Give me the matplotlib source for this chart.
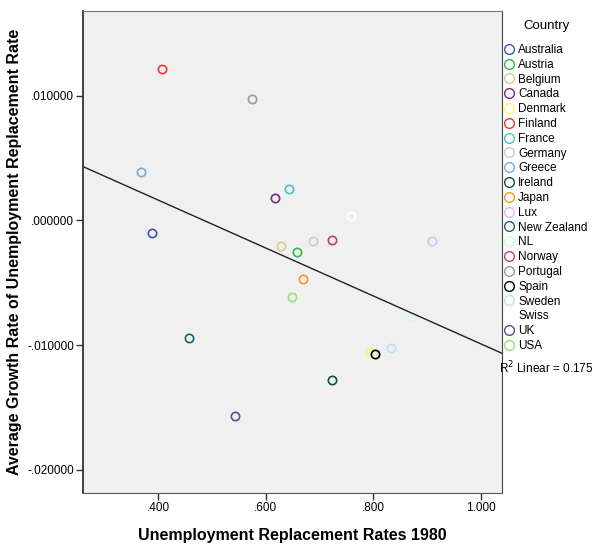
import numpy as np
import matplotlib
matplotlib.use("Agg")
import matplotlib.pyplot as plt
from matplotlib.lines import Line2D

plt.rcParams["font.family"] = ["Liberation Sans", "DejaVu Sans"]

countries = ["Australia", "Austria", "Belgium", "Canada", "Denmark", "Finland",
             "France", "Germany", "Greece", "Ireland", "Japan", "Lux",
             "New Zealand", "NL", "Norway", "Portugal", "Spain", "Sweden",
             "Swiss", "UK", "USA"]
repl_1980 = [0.388, 0.659, 0.629, 0.618, 0.794, 0.408,
             0.644, 0.688, 0.369, 0.724, 0.669, 0.909,
             0.458, 0.873, 0.724, 0.574, 0.804, 0.834,
             0.759, 0.544, 0.649]
growth = [-0.00098, -0.00250, -0.00205, 0.00183, -0.01058, 0.01218,
          0.00250, -0.00162, 0.00387, -0.01278, -0.00472, -0.00165,
          -0.00941, -0.00772, -0.00154, 0.00975, -0.01069, -0.01026,
          0.00039, -0.01567, -0.00614]
colors = ["#3E58AC", "#2EB848", "#D3CE97", "#7C287D", "#FBF873", "#EF3338",
          "#48C2C5", "#CCCCCC", "#7AAAD5", "#0A562C", "#F8981D", "#DDBAF1",
          "#1A5F76", "#CCFFCC", "#BB3F7F", "#999999", "#000000", "#B6E7E8",
          "#FFFFFF", "#53558B", "#97E373"]

x = np.array(repl_1980)
y = np.array(growth)
slope, intercept = np.polyfit(x, y, 1)

fig = plt.figure(figsize=(5.94, 5.59), dpi=100)
ax = fig.add_axes([83 / 594, 1 - 493 / 559, (502 - 83) / 594, (493 - 11) / 559])
ax.set_facecolor("#F0F0F0")

handles = []
for c, xi, yi, col in zip(countries, x, y, colors):
    ax.plot(xi, yi, "o", ms=6, mfc="none", mec=col, mew=1.2)
    handles.append(Line2D([], [], ls="none", marker="o", ms=7, mfc="none",
                          mec=col, mew=1.0, label=c))

xlim = (0.2605, 1.0396)
ax.set_xlim(*xlim)
ax.set_ylim(-0.02187, 0.01681)
xs = np.array(xlim)
ax.plot(xs, slope * xs + intercept, color="#222222", lw=1.0)

ax.set_xticks([0.4, 0.6, 0.8, 1.0])
ax.set_xticklabels([".400", ".600", ".800", "1.000"])
ax.set_yticks([0.01, 0.0, -0.01, -0.02])
ax.set_yticklabels([".010000", ".000000", "-.010000", "-.020000"])
ax.tick_params(labelsize=8.5, length=5, width=1, color="#333333", pad=1.5)
for s in ax.spines.values():
    s.set_color("#777777")
ax.spines["left"].set_color("#333333")
ax.spines["left"].set_linewidth(1.3)
ax.spines["bottom"].set_color("#555555")
ax.spines["right"].set_color("#444444")

ax.set_xlabel("Unemployment Replacement Rates 1980", fontsize=11.5,
              fontweight="bold", labelpad=10)
ax.set_ylabel("Average Growth Rate of Unemployment Replacement Rate",
              fontsize=11.5, fontweight="bold", labelpad=4)

fig.legend(handles=handles, loc="upper left",
           bbox_to_anchor=(504 / 594, 1 - 44 / 559), frameon=False,
           fontsize=8.5, handlelength=0.8, handletextpad=0.4,
           labelspacing=0.237, borderpad=0, borderaxespad=0)
fig.text(546 / 594, 1 - 26 / 559, "Country", fontsize=9.5,
         ha="center", va="center")

fig.text(499 / 594, 1 - 368 / 559, "R$^2$ Linear = 0.175", fontsize=8.5,
         va="center", ha="left")

fig.savefig("out.png", dpi=100)
